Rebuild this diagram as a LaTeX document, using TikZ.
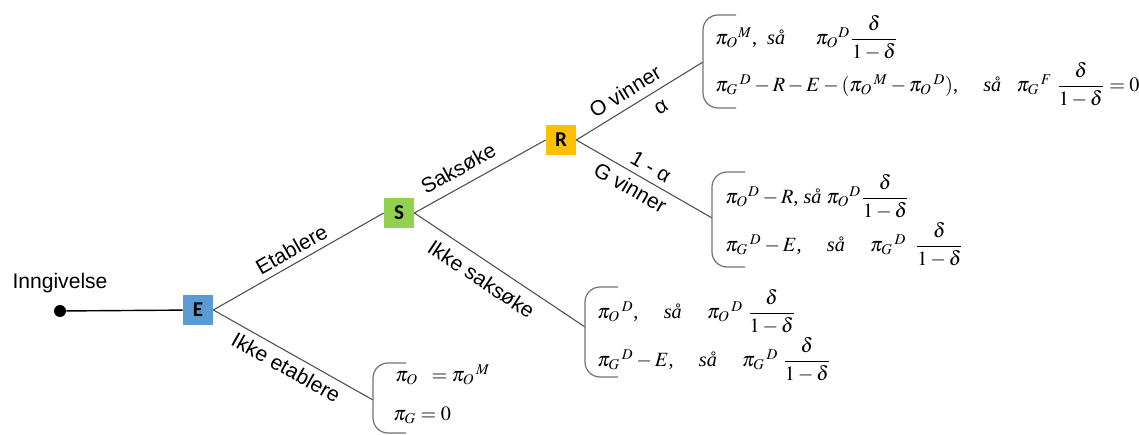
\documentclass[tikz,border=0pt]{standalone}
\usepackage{amsmath}
\usepackage{mathptmx}
\usepackage{fontspec}
\setmainfont{Liberation Serif}
\setsansfont{Liberation Sans}
\newfontfamily\boxfont{Carlito}

\definecolor{eBlue}{RGB}{91,155,213}
\definecolor{sGreen}{RGB}{146,208,80}
\definecolor{rOrange}{RGB}{255,192,0}

\begin{document}
\begin{tikzpicture}[
  box/.style={minimum size=0.6cm, inner sep=0pt, font=\boxfont\bfseries\large},
  branch/.style={draw=black!70, line width=0.6pt},
  lbl/.style={font=\sffamily\large, sloped},
  formula/.style={anchor=west, inner sep=0pt, font=\fontsize{11.5}{14}\selectfont},
  bracket/.style={draw=black!55, line width=0.7pt, rounded corners=0.3cm}
]
\useasboundingbox (0,0) rectangle (22.78,8.7);

% Start point and decision boxes
\node[circle, fill=black, inner sep=0pt, minimum size=0.24cm] (start) at (1.2,2.48) {};
\node[font=\sffamily\large] (title) at (1.2,3.04) {Inngivelse};
\node[box, fill=eBlue] (E) at (3.96,2.5) {E};
\node[box, fill=sGreen] (S) at (7.98,4.44) {S};
\node[box, fill=rOrange] (R) at (11.22,5.9) {R};

% Where the branches meet the brackets
\coordinate (noEst) at (7.46,0.7);
\coordinate (noSue) at (11.7,2.16);
\coordinate (oWins) at (14.06,7.46);
\coordinate (gWins) at (14.24,4.34);

% Branches
\draw[black, line width=0.8pt] (start) -- (E);
\draw[branch] (E.east) -- node[lbl, above] {Etablere} (S.west);
\draw[branch] (E.east) -- node[lbl, below] {Ikke etablere} (noEst);
\draw[branch] (S.east) -- node[lbl, above=2pt, pos=0.4] {Saksøke} (R.west);
\draw[branch] (S.east) -- node[lbl, below=2pt, pos=0.45] {Ikke saksøke} (noSue);
\draw[branch] (R.east) -- node[lbl, above=1pt, pos=0.45] {O vinner} node[lbl, below=3pt, pos=0.6] {α} (oWins);
\draw[branch] (R.east) -- node[lbl, above, pos=0.5] {1 - α} node[lbl, below, pos=0.45] {G vinner} (gWins);

% Brackets
\draw[bracket] (14.72,8.4) -- (14.06,8.4) -- (14.06,6.54) -- (14.72,6.54);
\draw[bracket] (14.9,5.26) -- (14.24,5.26) -- (14.24,3.36) -- (14.9,3.36);
\draw[bracket] (12.36,2.96) -- (11.7,2.96) -- (11.7,1.16) -- (12.36,1.16);
\draw[bracket] (8.12,1.44) -- (7.46,1.44) -- (7.46,0.04) -- (8.12,0.04);

% Payoffs, O vinner
\node[formula] (oWinA) at (14.3,7.94)
  {$\pi_O{}^{M}$, \ \textit{så} \quad\ $\pi_O{}^{D}\dfrac{\delta}{1-\delta}$};
\node[formula] (oWinB) at (14.3,7.0)
  {$\pi_G{}^{\,D} - R - E - (\pi_O{}^{\,M} - \pi_O{}^{\,D})$, \quad \textit{så} \ \ $\pi_G{}^{\,F}\;\dfrac{\delta}{1-\delta} = 0$};

% Payoffs, G vinner
\node[formula] (gWinA) at (14.5,4.76)
  {$\pi_O{}^{D} - R$, \textit{så} $\pi_O{}^{D}\dfrac{\delta}{1-\delta}$};
\node[formula] (gWinB) at (14.5,3.8)
  {$\pi_G{}^{\,D} - E$, \quad \textit{så} \quad $\pi_G{}^{\,D}\;\;\dfrac{\delta}{1-\delta}$};

% Payoffs, ikke saksøke
\node[formula] (noSueA) at (11.94,2.46)
  {$\pi_O{}^{\,D}$, \quad \textit{så} \quad $\pi_O{}^{\,D}\;\dfrac{\delta}{1-\delta}$};
\node[formula] (noSueB) at (11.94,1.5)
  {$\pi_G{}^{\,D} - E$, \quad \textit{så} \quad $\pi_G{}^{\,D}\;\dfrac{\delta}{1-\delta}$};

% Payoffs, ikke etablere
\node[formula] (noEstA) at (7.9,1.2) {$\pi_O\;\; = \pi_O{}^{\,M}$};
\node[formula] (noEstB) at (7.86,0.4) {$\pi_G = 0$};

\end{tikzpicture}
\end{document}
